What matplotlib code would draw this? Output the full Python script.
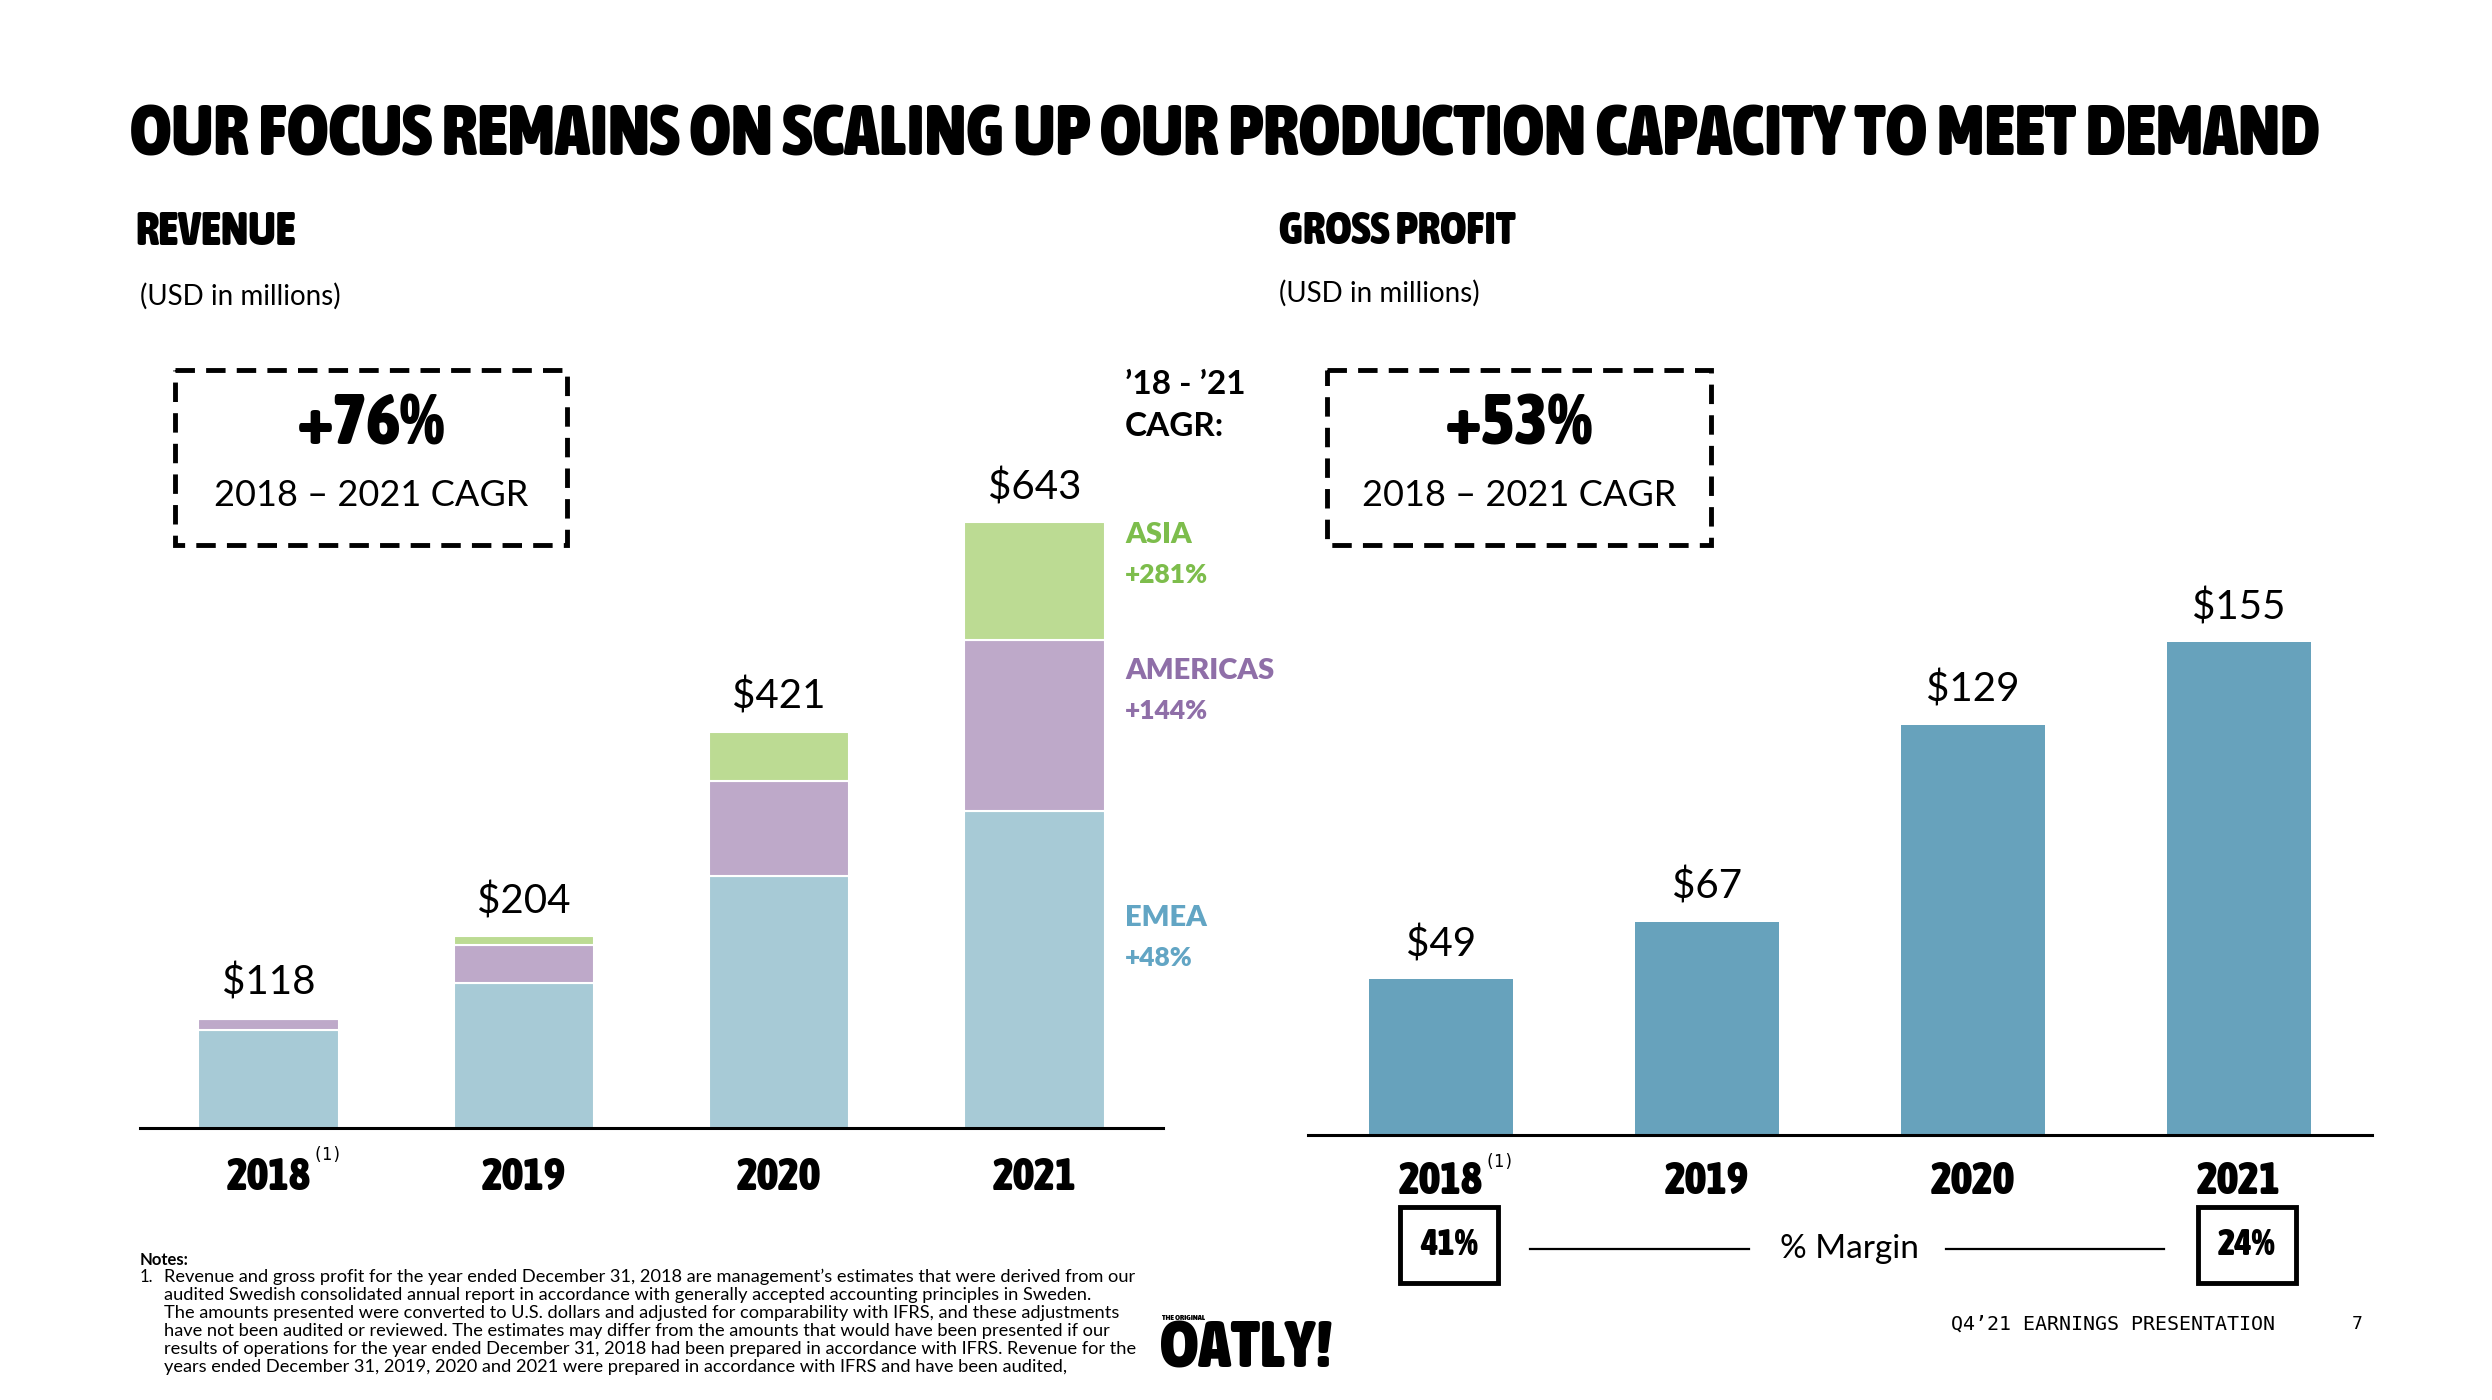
import matplotlib
matplotlib.use('Agg')
import matplotlib.pyplot as plt
import matplotlib.transforms as mtransforms
from matplotlib import font_manager
from matplotlib.font_manager import FontProperties
from matplotlib.patches import Rectangle


names = {f.name for f in font_manager.fontManager.ttflist}
BODY = 'Lato' if 'Lato' in names else 'DejaVu Sans'
MONO = 'DejaVu Sans Mono'

WMAP = {'ultralight': 200, 'light': 300, 'normal': 400, 'regular': 400, 'book': 400,
        'medium': 500, 'semibold': 600, 'demibold': 600, 'bold': 700, 'heavy': 800,
        'extra bold': 800, 'black': 900}


def wnum(w):
    if isinstance(w, str):
        return WMAP.get(w.lower(), 400)
    return int(w)


# look for a bold condensed face for the poster-style headings
heavy_file = None
best = -1
for f in font_manager.fontManager.ttflist:
    narrow = ('condensed' in str(f.stretch)) or ('Condensed' in f.name) or ('Narrow' in f.name)
    if narrow and wnum(f.weight) >= 700 and f.style == 'normal':
        if wnum(f.weight) > best:
            best = wnum(f.weight)
            heavy_file = f.fname


def heavy(size):
    if heavy_file:
        return FontProperties(fname=heavy_file, size=size)
    return FontProperties(family='DejaVu Sans', weight='bold', size=size)


# data (USD in millions)
years = ['2018', '2019', '2020', '2021']
rev_emea = [104, 154, 268, 337]
rev_americas = [12, 40, 100, 181]
rev_asia = [2, 10, 53, 125]
rev_total = [118, 204, 421, 643]
gross_profit = [49, 67, 129, 155]
gp_margin = ['41%', '', '', '24%']
regions = ['ASIA', 'AMERICAS', 'EMEA']
region_cagr = ['+281%', '+144%', '+48%']
rev_cagr = '+76%'
gp_cagr = '+53%'

c_emea = '#a7cad6'
c_amer = '#bea9c9'
c_asia = '#bcdb93'
c_gp = '#67a2bc'
region_txt_colors = ['#7dbd4c', '#8f6fa8', '#62a5c4']

notes = [
    'Revenue and gross profit for the year ended December 31, 2018 are management\u2019s estimates that were derived from our',
    'audited Swedish consolidated annual report in accordance with generally accepted accounting principles in Sweden.',
    'The amounts presented were converted to U.S. dollars and adjusted for comparability with IFRS, and these adjustments',
    'have not been audited or reviewed. The estimates may differ from the amounts that would have been presented if our',
    'results of operations for the year ended December 31, 2018 had been prepared in accordance with IFRS. Revenue for the',
    'years ended December 31, 2019, 2020 and 2021 were prepared in accordance with IFRS and have been audited,',
]

W, H = 2492, 1400
fig = plt.figure(figsize=(W / 100, H / 100), dpi=100)
fig.patch.set_facecolor('white')
renderer = fig.canvas.get_renderer()


def fit(t, width_px):
    # scale a text so that it spans width_px
    ext = t.get_window_extent(renderer)
    t.set_fontsize(t.get_fontsize() * width_px / ext.width)


x = list(range(len(years)))

# revenue stacked bars
ax1 = fig.add_axes([140 / W, 1 - 1128 / H, 1023 / W, 728 / H])
bot2 = [a + b for a, b in zip(rev_emea, rev_americas)]
ax1.bar(x, rev_emea, width=0.55, color=c_emea, edgecolor='white', linewidth=1.5)
ax1.bar(x, rev_americas, width=0.55, bottom=rev_emea, color=c_amer, edgecolor='white', linewidth=1.5)
ax1.bar(x, rev_asia, width=0.55, bottom=bot2, color=c_asia, edgecolor='white', linewidth=1.5)
ax1.set_xlim(-0.503, 3.503)
ax1.set_ylim(0, 773)
for i, v in enumerate(rev_total):
    ax1.annotate('$%d' % v, (x[i], v), xytext=(0, 25), textcoords='offset points',
                 ha='center', va='center', fontsize=29, family=BODY)

# gross profit bars
ax2 = fig.add_axes([1308 / W, 1 - 1134.5 / H, 1064 / W, 574.5 / H])
ax2.bar(x, gross_profit, width=0.545, color=c_gp)
ax2.set_xlim(-0.5, 3.5)
ax2.set_ylim(0, 180.8)
for i, v in enumerate(gross_profit):
    ax2.annotate('$%d' % v, (x[i], v), xytext=(0, 25), textcoords='offset points',
                 ha='center', va='center', fontsize=29, family=BODY)

for ax in (ax1, ax2):
    for s in ['top', 'right', 'left']:
        ax.spines[s].set_visible(False)
    ax.spines['bottom'].set_linewidth(2.2)
    ax.set_xticks([])
    ax.set_yticks([])
    ax.patch.set_alpha(0)

# overlay in pixel coordinates
ov = fig.add_axes([0, 0, 1, 1])
ov.set_xlim(0, W)
ov.set_ylim(H, 0)
ov.axis('off')
ov.patch.set_alpha(0)

t = ov.text(130, 136, 'OUR FOCUS REMAINS ON SCALING UP OUR PRODUCTION CAPACITY TO MEET DEMAND',
            fontproperties=heavy(50), va='center', ha='left')
fit(t, 2187)
t = ov.text(135, 232, 'REVENUE', fontproperties=heavy(31), va='center')
fit(t, 160)
t = ov.text(1279, 232, 'GROSS PROFIT', fontproperties=heavy(31), va='center')
fit(t, 236)
ov.text(140, 296, '(USD in millions)', family=BODY, fontsize=20, va='center')
ov.text(1279, 293, '(USD in millions)', family=BODY, fontsize=20, va='center')

# CAGR dashed boxes
for (x0, x1), big in [((175, 567), rev_cagr), ((1327, 1711), gp_cagr)]:
    ov.add_patch(Rectangle((x0, 370), x1 - x0, 175, fill=False, edgecolor='black',
                           linewidth=3.5, linestyle=(0, (4, 2.3))))
    cx = (x0 + x1) / 2
    t = ov.text(cx, 425, big, fontproperties=heavy(46), ha='center', va='center')
    fit(t, 148)
    ov.text(cx, 496, '2018 \u2013 2021 CAGR', family=BODY, fontsize=26, ha='center', va='center')

# region CAGR legend
ov.text(1125, 385, '\u201918 - \u201921', family=BODY, fontweight='bold', fontsize=24, va='center')
ov.text(1125, 426, 'CAGR:', family=BODY, fontweight='bold', fontsize=24, va='center')
for name, cg, col, y in zip(regions, region_cagr, region_txt_colors, [535, 671, 918]):
    ov.text(1125, y, name, family=BODY, fontweight='heavy', fontsize=21, color=col, va='center')
    ov.text(1125, y + 40, cg, family=BODY, fontweight='heavy', fontsize=19, color=col, va='center')

# year labels under bars
t1 = mtransforms.blended_transform_factory(ax1.transData, ov.transData)
t2 = mtransforms.blended_transform_factory(ax2.transData, ov.transData)
for i, yr in enumerate(years):
    t = ov.text(x[i], 1177, yr, transform=t1, fontproperties=heavy(34), ha='center', va='center')
    fit(t, 84)
    t = ov.text(x[i], 1182, yr, transform=t2, fontproperties=heavy(34), ha='center', va='center')
    fit(t, 84)
ov.text(328, 1155, '(1)', family=MONO, fontsize=12, ha='center', va='center')
ov.text(1500, 1162, '(1)', family=MONO, fontsize=12, ha='center', va='center')

# margin boxes
for i, m in enumerate(gp_margin):
    if m:
        t = ov.text(x[i] + 0.03, 1245, m, transform=t2, fontproperties=heavy(28),
                    ha='center', va='center',
                    bbox=dict(boxstyle='square,pad=0.55', facecolor='white', edgecolor='black',
                              linewidth=3.5))
        fit(t, 58)
ov.plot([1530, 1749], [1249, 1249], color='black', lw=1.6)
ov.plot([1946, 2164], [1249, 1249], color='black', lw=1.6)
ov.text(1849, 1249, '% Margin', family=BODY, fontsize=24, ha='center', va='center')

# notes
ov.text(140, 1260, 'Notes:', family=BODY, fontweight='bold', fontsize=12, va='center')
ov.text(140, 1277, '1.', family=BODY, fontsize=12, va='center')
sizes = []
for k, line in enumerate(notes):
    t = ov.text(164, 1277 + 18 * k, line, family=BODY, fontsize=12.5, va='center')
    if k == 0:
        fit(t, 977)
        note_size = t.get_fontsize()
    else:
        t.set_fontsize(note_size)

# logo and footer
ov.text(1162, 1318, 'THE ORIGINAL', fontproperties=heavy(6), va='center')
t = ov.text(1160, 1350, 'OATLY!', fontproperties=heavy(46), va='center')
fit(t, 172)
t = ov.text(1951, 1324, 'Q4\u201921 EARNINGS PRESENTATION', family=MONO, fontsize=13, va='center')
fit(t, 326)
ov.text(2352, 1324, '7', family=MONO, fontsize=13, va='center')

fig.savefig('out.png', dpi=100, facecolor='white')
